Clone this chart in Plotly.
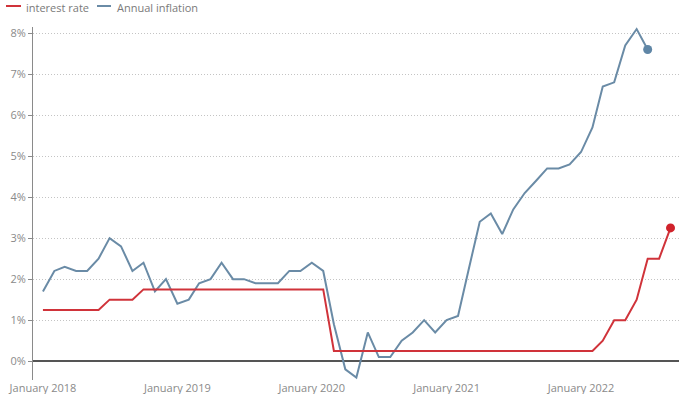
import pandas as pd
import plotly.graph_objects as go

# Monthly data, January 2018 onward
rate_start = "2018-01-01"
interest_rate = [1.25, 1.25, 1.25, 1.25, 1.25, 1.25, 1.5, 1.5, 1.5, 1.75, 1.75, 1.75,
                 1.75, 1.75, 1.75, 1.75, 1.75, 1.75, 1.75, 1.75, 1.75, 1.75, 1.75, 1.75,
                 1.75, 1.75, 0.25, 0.25, 0.25, 0.25, 0.25, 0.25, 0.25, 0.25, 0.25, 0.25,
                 0.25, 0.25, 0.25, 0.25, 0.25, 0.25, 0.25, 0.25, 0.25, 0.25, 0.25, 0.25,
                 0.25, 0.25, 0.5, 1.0, 1.0, 1.5, 2.5, 2.5, 3.25]
annual_inflation = [1.7, 2.2, 2.3, 2.2, 2.2, 2.5, 3.0, 2.8, 2.2, 2.4, 1.7, 2.0,
                    1.4, 1.5, 1.9, 2.0, 2.4, 2.0, 2.0, 1.9, 1.9, 1.9, 2.2, 2.2,
                    2.4, 2.2, 0.9, -0.2, -0.4, 0.7, 0.1, 0.1, 0.5, 0.7, 1.0, 0.7,
                    1.0, 1.1, 2.2, 3.4, 3.6, 3.1, 3.7, 4.1, 4.4, 4.7, 4.7, 4.8,
                    5.1, 5.7, 6.7, 6.8, 7.7, 8.1, 7.6]
x_tick_values = ["2018-01-01", "2019-01-01", "2020-01-01", "2021-01-01", "2022-01-01"]
x_tick_labels = ["January 2018", "January 2019", "January 2020", "January 2021", "January 2022"]
y_tick_values = [0, 1, 2, 3, 4, 5, 6, 7, 8]
y_tick_labels = ["0%", "1%", "2%", "3%", "4%", "5%", "6%", "7%", "8%"]

rate_dates = pd.date_range(rate_start, periods=len(interest_rate), freq="MS")
infl_dates = pd.date_range(rate_start, periods=len(annual_inflation), freq="MS")

RED = "#d0333a"
RED_DOT = "#d0222b"
BLUE = "#6a8ba6"
BLUE_DOT = "#5f86a6"
TXT = "#8a8a8a"
FONT = "Open Sans"

fig = go.Figure()
fig.add_trace(go.Scatter(x=infl_dates, y=annual_inflation, mode="lines",
                         line=dict(color=BLUE, width=2), name="Annual inflation",
                         showlegend=False, hoverinfo="skip"))
fig.add_trace(go.Scatter(x=rate_dates, y=interest_rate, mode="lines",
                         line=dict(color=RED, width=2), name="interest rate",
                         showlegend=False, hoverinfo="skip"))
fig.add_trace(go.Scatter(x=[infl_dates[-1]], y=[annual_inflation[-1]], mode="markers",
                         marker=dict(color=BLUE_DOT, size=9), showlegend=False, hoverinfo="skip"))
fig.add_trace(go.Scatter(x=[rate_dates[-1]], y=[interest_rate[-1]], mode="markers",
                         marker=dict(color=RED_DOT, size=9), showlegend=False, hoverinfo="skip"))

# Manual compact legend
W = 700 - 33 - 21
H = 394 - 27 - 14
def px_x(p):
    return (p - 33) / W
def px_y(p):
    return (394 - 14 - p) / H

legend_items = [("interest rate", RED, 6, 21, 24), ("Annual inflation", BLUE, 97, 111, 115)]
for label, color, x0, x1, tx in legend_items:
    fig.add_shape(type="line", xref="paper", yref="paper",
                  x0=px_x(x0), x1=px_x(x1), y0=px_y(6), y1=px_y(6),
                  line=dict(color=color, width=2))
    fig.add_annotation(text=label, xref="paper", yref="paper", x=px_x(tx), y=px_y(7),
                       xanchor="left", yanchor="middle", showarrow=False,
                       font=dict(family=FONT, size=11, color="#7a7a7a"))

fig.update_layout(
    width=700, height=394,
    margin=dict(l=33, r=21, t=27, b=14, autoexpand=False),
    plot_bgcolor="white", paper_bgcolor="white",
    showlegend=False,
    font=dict(family=FONT, size=11, color=TXT),
    xaxis=dict(
        range=["2017-12-05", "2022-09-24"], automargin=False,
        tickvals=x_tick_values, ticktext=x_tick_labels,
        showgrid=False, showline=False, ticks="", zeroline=False,
        tickfont=dict(family=FONT, size=11, color=TXT),
    ),
    yaxis=dict(
        range=[-0.46, 8.15], automargin=False,
        tickvals=y_tick_values, ticktext=y_tick_labels,
        showgrid=True, gridcolor="#c4c4c4", griddash="1px,2px", gridwidth=1,
        showline=True, linecolor="#8a8a8a", linewidth=1,
        ticks="outside", ticklen=4, tickcolor="#8a8a8a",
        zeroline=True, zerolinecolor="#555555", zerolinewidth=2,
        tickfont=dict(family=FONT, size=11, color=TXT),
    ),
)

fig.write_html("out.html", config={"displayModeBar": False},
               post_script="document.body.style.margin='0px';document.body.style.overflow='hidden';")
